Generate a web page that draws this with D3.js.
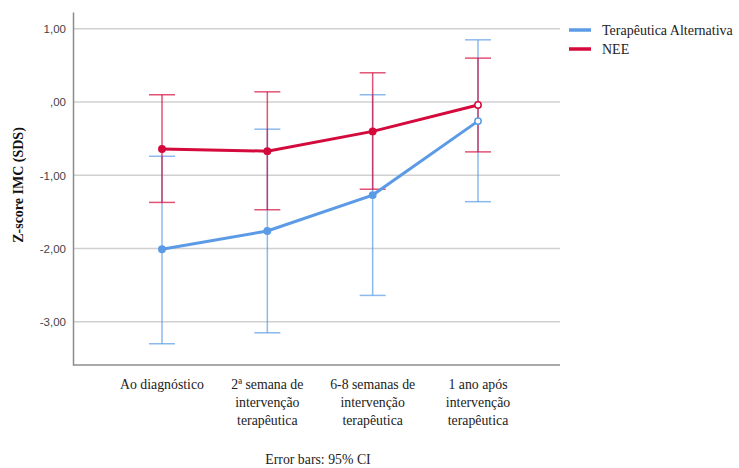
<!DOCTYPE html>
<html>
<head>
<meta charset="utf-8">
<script src="https://cdn.jsdelivr.net/npm/d3@7"></script>
<style>
  body { margin: 0; background: #fff; }
  svg { display: block; }
</style>
</head>
<body>
<div class="container"></div>
<script>
(function(d3) {
  "use strict";

  var categories = [
    ["Ao diagnóstico"],
    ["2ª semana de", "intervenção", "terapêutica"],
    ["6-8 semanas de", "intervenção", "terapêutica"],
    ["1 ano após", "intervenção", "terapêutica"]
  ];

  var seriesNames = ["Terapêutica Alternativa", "NEE"];

  var altMean = [-2.01, -1.76, -1.27, -0.26];
  var altLow = [-3.30, -3.15, -2.64, -1.36];
  var altHigh = [-0.74, -0.37, 0.10, 0.85];

  var neeMean = [-0.64, -0.67, -0.40, -0.04];
  var neeLow = [-1.37, -1.47, -1.19, -0.68];
  var neeHigh = [0.10, 0.14, 0.40, 0.60];

  var yTicks = [1, 0, -1, -2, -3];

  var colors = ["#5b9be6", "#d40a3c"];

  var serif = "'Liberation Serif'";
  var sans = "'Liberation Sans'";

  var width = 739, height = 468;
  var left = 73, right = 560, top = 12, bottom = 365;

  var series = [
    { name: seriesNames[0], mean: altMean, low: altLow, high: altHigh, color: colors[0] },
    { name: seriesNames[1], mean: neeMean, low: neeLow, high: neeHigh, color: colors[1] }
  ];

  var svg = d3.select(".container").append("svg")
      .attr("width", width)
      .attr("height", height);

  var x = d3.scalePoint()
      .domain(d3.range(categories.length))
      .range([162, 478]);

  var y = d3.scaleLinear()
      .domain([-3.59, 1.23])
      .range([bottom, top]);

  // gridlines
  svg.append("g")
    .selectAll("line")
      .data(yTicks)
    .enter().append("line")
      .attr("x1", left)
      .attr("x2", right)
      .attr("y1", function(d) { return y(d); })
      .attr("y2", function(d) { return y(d); })
      .style("stroke", "#d0d0d0")
      .style("stroke-width", 1.5);

  // y axis
  var fmt = function(d) {
    var s = d3.format(".2f")(d).replace(".", ",").replace("\u2212", "-");
    if (d === 0) s = ",00";
    return s;
  };
  var yAxis = svg.append("g")
      .attr("transform", "translate(" + left + ",0)")
      .call(d3.axisLeft(y).tickValues(yTicks).tickSize(0).tickPadding(7).tickFormat(fmt));
  yAxis.attr("font-family", sans).attr("font-size", 11.5);
  yAxis.select(".domain").style("stroke", "#8c8c8c").style("stroke-width", 1.5);
  yAxis.selectAll("text").style("fill", "#444");

  // x axis
  var xAxis = svg.append("g")
      .attr("transform", "translate(0," + bottom + ")")
      .call(d3.axisBottom(x).tickSize(0).tickFormat(""));
  xAxis.select(".domain")
      .attr("d", "M" + left + ",0H" + right)
      .style("stroke", "#8c8c8c").style("stroke-width", 1.5);

  var labels = svg.append("g")
    .selectAll("text")
      .data(categories)
    .enter().append("text")
      .attr("font-family", serif)
      .attr("font-size", 13.8)
      .attr("text-anchor", "middle")
      .attr("transform", function(d, i) { return "translate(" + x(i) + ",389)"; })
      .style("fill", "#222");
  labels.selectAll("tspan")
      .data(function(d) { return d; })
    .enter().append("tspan")
      .attr("x", 0)
      .attr("y", function(d, i) { return i * 17.8; })
      .text(function(d) { return d; });

  // y title
  svg.append("text")
      .attr("font-family", serif)
      .attr("transform", "translate(23,185) rotate(-90)")
      .attr("text-anchor", "middle")
      .attr("font-weight", "bold")
      .attr("font-size", 14)
      .style("fill", "#111")
      .text("Z-score IMC (SDS)");

  svg.append("text")
      .attr("font-family", serif)
      .attr("x", 318)
      .attr("y", 464)
      .attr("text-anchor", "middle")
      .attr("font-size", 13.8)
      .style("fill", "#222")
      .text("Error bars: 95% CI");

  var line = d3.line()
      .x(function(d, i) { return x(i); })
      .y(function(d) { return y(d); });

  series.forEach(function(s) {
    var bars = svg.append("g").selectAll("g")
        .data(s.mean)
      .enter().append("g")
        .style("stroke", s.color)
        .style("stroke-opacity", 0.7)
        .style("stroke-width", 1.5);
    bars.append("line")
        .attr("x1", function(d, i) { return x(i); })
        .attr("x2", function(d, i) { return x(i); })
        .attr("y1", function(d, i) { return y(s.low[i]); })
        .attr("y2", function(d, i) { return y(s.high[i]); });
    bars.append("line")
        .attr("x1", function(d, i) { return x(i) - 13; })
        .attr("x2", function(d, i) { return x(i) + 13; })
        .attr("y1", function(d, i) { return y(s.low[i]); })
        .attr("y2", function(d, i) { return y(s.low[i]); });
    bars.append("line")
        .attr("x1", function(d, i) { return x(i) - 13; })
        .attr("x2", function(d, i) { return x(i) + 13; })
        .attr("y1", function(d, i) { return y(s.high[i]); })
        .attr("y2", function(d, i) { return y(s.high[i]); });
  });

  series.forEach(function(s) {
    svg.append("path")
        .datum(s.mean)
        .attr("d", line)
        .style("fill", "none")
        .style("stroke", s.color)
        .style("stroke-width", 3);
    svg.append("g")
      .selectAll("circle")
        .data(s.mean)
      .enter().append("circle")
        .attr("cx", function(d, i) { return x(i); })
        .attr("cy", function(d) { return y(d); })
        .attr("r", 3.2)
        .style("fill", function(d, i) { return i === 3 ? "#fff" : s.color; })
        .style("stroke", s.color)
        .style("stroke-width", 1.5);
  });

  // legend
  var legend = svg.append("g")
      .attr("transform", "translate(569,30)");
  var items = legend.selectAll("g")
      .data(series)
    .enter().append("g")
      .attr("transform", function(d, i) { return "translate(0," + (i * 19) + ")"; });
  items.append("line")
      .attr("x1", 0).attr("x2", 22)
      .style("stroke", function(d) { return d.color; })
      .style("stroke-width", 3.5);
  items.append("text")
      .attr("font-family", serif)
      .attr("x", 33)
      .attr("y", 4.5)
      .attr("font-size", 14)
      .style("fill", "#222")
      .text(function(d) { return d.name; });

}(d3));
</script>
</body>
</html>
